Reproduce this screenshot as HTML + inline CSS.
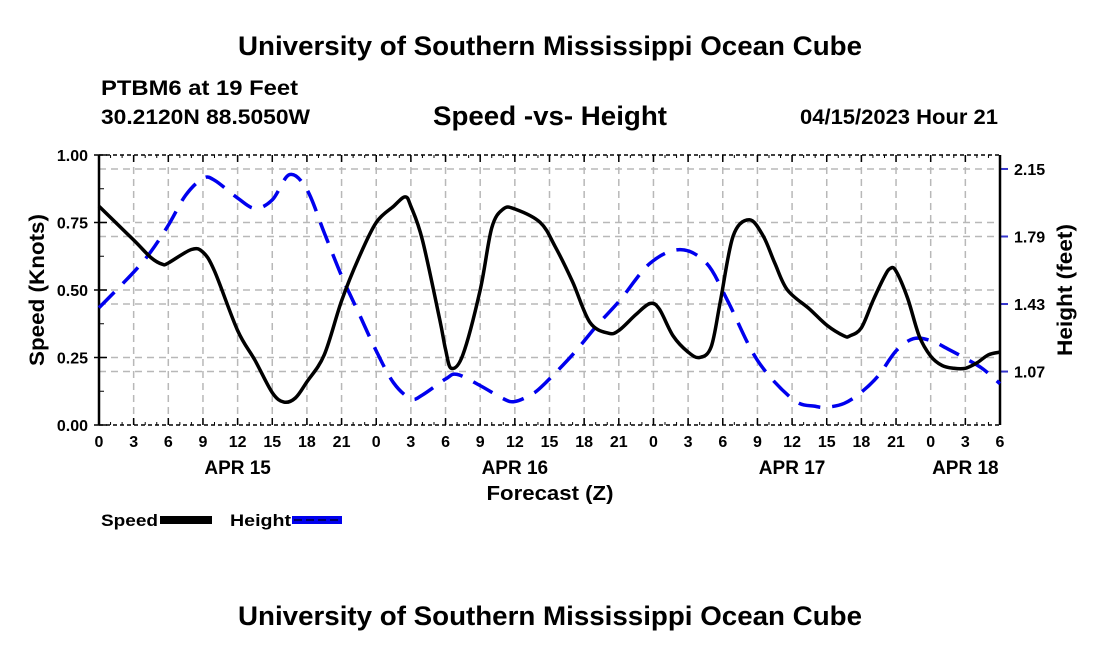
<!DOCTYPE html>
<html><head><meta charset="utf-8"><style>
body{margin:0;background:#fff;}
svg text{font-family:"Liberation Sans",sans-serif;font-weight:bold;fill:#000;}
</style></head><body>
<svg width="1100" height="650" viewBox="0 0 1100 650">
<text x="550" y="55" text-anchor="middle" font-size="27" textLength="624" lengthAdjust="spacingAndGlyphs">University of Southern Mississippi Ocean Cube</text>
<text x="101" y="95" font-size="21" textLength="197" lengthAdjust="spacingAndGlyphs">PTBM6 at 19 Feet</text>
<text x="101" y="124" font-size="21" textLength="209" lengthAdjust="spacingAndGlyphs">30.2120N  88.5050W</text>
<text x="550" y="125" text-anchor="middle" font-size="27" textLength="234" lengthAdjust="spacingAndGlyphs">Speed -vs- Height</text>
<text x="998" y="124" text-anchor="end" font-size="21" textLength="198" lengthAdjust="spacingAndGlyphs">04/15/2023 Hour 21</text>
<g id="grid"></g>
<g id="axes"></g>
<g id="series"></g>
<text transform="translate(44,290) rotate(-90)" text-anchor="middle" font-size="21" textLength="152" lengthAdjust="spacingAndGlyphs">Speed (Knots)</text>
<text transform="translate(1072,290) rotate(-90)" text-anchor="middle" font-size="21" textLength="132" lengthAdjust="spacingAndGlyphs">Height (feet)</text>
<text x="550" y="500" text-anchor="middle" font-size="20" textLength="127" lengthAdjust="spacingAndGlyphs">Forecast (Z)</text>
<g>
<text x="101" y="526" font-size="17" textLength="57" lengthAdjust="spacingAndGlyphs">Speed</text>
<rect x="160" y="516" width="52" height="8" fill="#000"/>
<text x="230" y="526" font-size="17" textLength="61" lengthAdjust="spacingAndGlyphs">Height</text>
<rect x="292" y="516" width="50" height="8" fill="#0000ee"/>
<line x1="294" y1="520" x2="342" y2="520" stroke="#000066" stroke-width="2" stroke-dasharray="8,4"/>
</g>
<text x="550" y="625" text-anchor="middle" font-size="27" textLength="624" lengthAdjust="spacingAndGlyphs">University of Southern Mississippi Ocean Cube</text>
</svg>
<script>
const speedHours=[0,3,4.5,5.5,6,8,9,10,12,13.5,15,16,17,18,19.5,21,22.5,24,25.5,26.5,27,28,29.5,30,30.5,31.5,33,34,35,36,38.2,39.5,41,42.5,44.1,45,46.5,47.7,48.5,49.7,51,52,53,53.8,54.9,56.3,57.5,58.5,59.6,61.5,63,64.5,65,66,67,68,68.5,69,70,71,72,73,74,75,76,77,78];
const speedValues=[0.81,0.685,0.62,0.595,0.6,0.65,0.64,0.57,0.35,0.24,0.12,0.085,0.1,0.16,0.26,0.46,0.62,0.75,0.81,0.845,0.81,0.685,0.39,0.28,0.21,0.26,0.5,0.73,0.8,0.8,0.75,0.66,0.53,0.38,0.34,0.35,0.41,0.45,0.43,0.33,0.27,0.25,0.29,0.46,0.70,0.76,0.70,0.60,0.50,0.43,0.37,0.33,0.33,0.36,0.46,0.55,0.58,0.57,0.47,0.33,0.255,0.22,0.21,0.21,0.23,0.26,0.27];
const heightHours=[0,3,4.5,6,7.5,9,10,12,13.5,15,16.5,18,19.5,21,22.5,24,25.5,27,28,30,31,33,35,36,37.5,38.5,41,43.1,45.1,47.7,50.3,52.6,54.4,57,60.1,62,63,64.5,66,67.5,69,70.5,72,73.5,75,76.5,78];
const heightValues=[1.41,1.6,1.71,1.85,2.01,2.1,2.09,1.995,1.94,1.985,2.12,2.04,1.81,1.58,1.38,1.18,1.01,0.925,0.945,1.03,1.055,0.995,0.925,0.91,0.95,1.0,1.16,1.315,1.45,1.647,1.72,1.647,1.45,1.13,0.92,0.885,0.88,0.90,0.96,1.05,1.18,1.245,1.235,1.19,1.14,1.085,1.005];
const xTickLabels=["0","3","6","9","12","15","18","21","0","3","6","9","12","15","18","21","0","3","6","9","12","15","18","21","0","3","6"];
const dayLabels=["APR 15","APR 16","APR 17","APR 18"];
const dayLabelHours=[12,36,60,75];
const leftTicks=[0,0.25,0.5,0.75,1.0];
const rightTicks=[1.07,1.43,1.79,2.15];

const X0=99,X1=1000,Y0=425,Y1=155;
const HMIN=0.785,HMAX=2.2245;
const xs=h=>X0+h*(X1-X0)/78;
const ys=v=>Y0-v*(Y0-Y1);
const yh=f=>Y0-(f-HMIN)/(HMAX-HMIN)*(Y0-Y1);
const NS="http://www.w3.org/2000/svg";
function mk(parent,tag,attrs){const e=document.createElementNS(NS,tag);for(const k in attrs)e.setAttribute(k,attrs[k]);parent.appendChild(e);return e;}
const grid=document.getElementById('grid'),axes=document.getElementById('axes'),series=document.getElementById('series');
const gs={stroke:"#b8b8b8","stroke-width":1.5,"stroke-dasharray":"7,5"};
xTickLabels.forEach((t,i)=>{const x=xs(i*3);
 if(i>0&&i<26){const l=mk(grid,'line',Object.assign({x1:x,x2:x,y1:Y1,y2:Y0},gs));}
 mk(axes,'line',{x1:x,x2:x,y1:Y0,y2:Y0-7,stroke:"#000","stroke-width":1.5});
 mk(axes,'line',{x1:x,x2:x,y1:Y1,y2:Y1+7,stroke:"#000","stroke-width":1.5});
 const tx=mk(axes,'text',{x:x,y:Y0+22,"text-anchor":"middle","font-size":16});tx.textContent=t;
 
});
for(let h=0;h<=78;h++){const x=xs(h);mk(axes,'line',{x1:x,x2:x,y1:Y0,y2:Y0-3,stroke:"#000","stroke-width":1});mk(axes,'line',{x1:x,x2:x,y1:Y1,y2:Y1+3,stroke:"#000","stroke-width":1});}
dayLabels.forEach((d,i)=>{const t=mk(axes,'text',{x:xs(dayLabelHours[i]),y:Y0+49,"text-anchor":"middle","font-size":19});t.textContent=d;
 });
leftTicks.forEach(v=>{const y=ys(v);
 if(v>0&&v<1){const l=mk(grid,'line',Object.assign({x1:X0,x2:X1,y1:y,y2:y},gs));}
 mk(axes,'line',{x1:X0-5,x2:X0+8,y1:y,y2:y,stroke:"#000","stroke-width":1.5});
 const t=mk(axes,'text',{x:X0-11,y:y+6,"text-anchor":"end","font-size":16});t.textContent=v.toFixed(2);
 });
for(let v=0.125;v<1;v+=0.25){const y=ys(v);mk(axes,'line',{x1:X0,x2:X0+5,y1:y,y2:y,stroke:"#000","stroke-width":1});}
rightTicks.forEach(f=>{const y=yh(f);
 const l=mk(grid,'line',Object.assign({x1:X0,x2:X1,y1:y,y2:y},gs));
 mk(axes,'line',{x1:X1,x2:X1+8,y1:y,y2:y,stroke:"#3333cc","stroke-width":2});
 const t=mk(axes,'text',{x:X1+14,y:y+6,"font-size":16});t.textContent=f.toFixed(2);
 });
mk(axes,'line',{x1:X0,x2:X0,y1:Y1,y2:Y0,stroke:"#000","stroke-width":2.5});
mk(axes,'line',{x1:X1,x2:X1,y1:Y1,y2:Y0,stroke:"#000","stroke-width":2.5});
mk(axes,'line',{x1:X0,x2:X1,y1:Y0,y2:Y0,stroke:"#000","stroke-width":1.5,"stroke-dasharray":"4,3"});
mk(axes,'line',{x1:X0,x2:X1,y1:Y1,y2:Y1,stroke:"#000","stroke-width":1.5,"stroke-dasharray":"4,3"});
function smooth(pts){let d="M"+pts[0][0]+","+pts[0][1];
 for(let i=0;i<pts.length-1;i++){const p0=pts[Math.max(0,i-1)],p1=pts[i],p2=pts[i+1],p3=pts[Math.min(pts.length-1,i+2)];
  const c1=[p1[0]+(p2[0]-p0[0])/6,p1[1]+(p2[1]-p0[1])/6],c2=[p2[0]-(p3[0]-p1[0])/6,p2[1]-(p3[1]-p1[1])/6];
  d+=" C"+c1.join(",")+" "+c2.join(",")+" "+p2.join(",");}return d;}
const hp=mk(series,'path',{d:smooth(heightHours.map((h,i)=>[xs(h),yh(heightValues[i])])),fill:"none",stroke:"#0000ee","stroke-width":3.5,"stroke-dasharray":"22,12"});


const sp=mk(series,'path',{d:smooth(speedHours.map((h,i)=>[xs(h),ys(speedValues[i])])),fill:"none",stroke:"#000","stroke-width":3.5});


</script>
</body></html>
